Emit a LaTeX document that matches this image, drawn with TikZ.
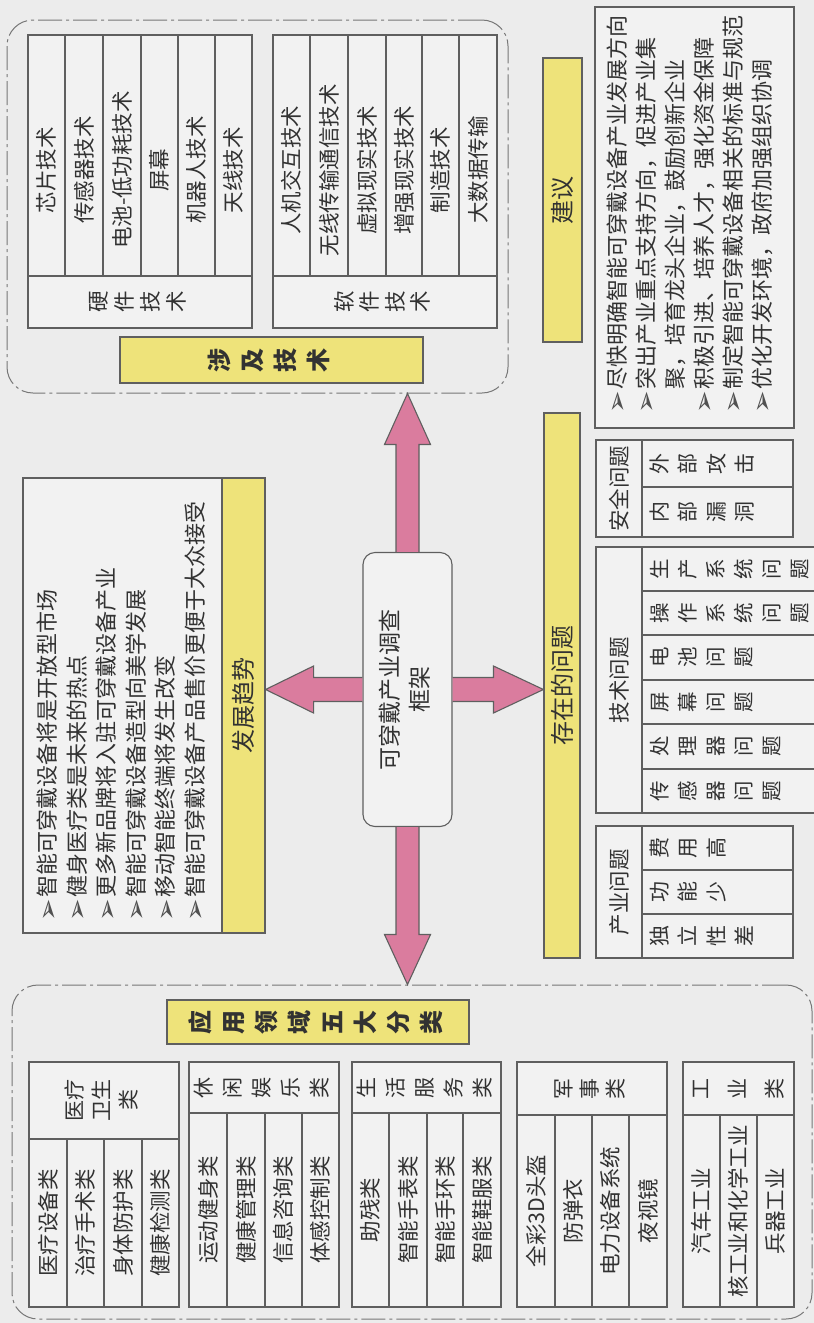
\documentclass[tikz,border=0pt]{standalone}
\usepackage{fontspec}
\usepackage{graphicx}
\setmainfont{Noto Sans CJK SC}
\newfontfamily\dejavu{DejaVu Sans}
\usetikzlibrary{calc}
\definecolor{bgc}{RGB}{236,236,236}
\definecolor{boxc}{RGB}{242,242,242}
\definecolor{linec}{RGB}{95,95,95}
\definecolor{txtc}{RGB}{50,50,50}
\definecolor{yel}{RGB}{238,227,122}
\definecolor{pinkc}{RGB}{218,124,158}
\newcommand{\fs}[2]{\fontsize{#1}{#2}\selectfont}
\newcommand{\R}[1]{\rotatebox{90}{\begin{tabular}{@{}c@{}}#1\end{tabular}}}
\newcommand{\RL}[1]{\rotatebox{90}{#1}}
\newcommand{\arr}{\raisebox{-1.5pt}{\dejavu\fs{27}{27}\textcolor{txtc!85}{➢}}\hspace{2pt}}
\begin{document}
\begin{tikzpicture}[x=1pt,y=-1pt,
 ln/.style={draw=linec, line width=1.1pt},
 cell/.style={ln, fill=boxc},
 txt/.style={inner sep=0pt, text=txtc, font=\fs{21.5}{27}},
 ltxt/.style={inner sep=0pt, text=txtc, font=\fs{22}{22}, anchor=south},
 ybox/.style={draw=linec, line width=1.1pt, fill=yel, inner sep=0pt, text=txtc},
 grp/.style={draw=linec!85, line width=1pt, dash pattern=on 24pt off 4pt on 3pt off 4pt, rounded corners=26pt, inner sep=0pt},
 fat/.style={draw=linec, line width=1.1pt, fill=pinkc, line join=miter}
]
\fill[bgc] (0,0) rectangle (814,1323);
\useasboundingbox (0,0) rectangle (814,1323);

% ---------- group frames ----------
\node[grp, minimum width=501pt, minimum height=373pt] (tg) at (257.5,206.5) {};
\node[grp, minimum width=800pt, minimum height=334pt] (ag) at (412,1152) {};

% ---------- hardware ----------
\draw[cell] (28,35) rectangle (252,328);
\draw[ln] (28,276) -- (252,276);
\foreach \x in {65,103,141,178,215} \draw[ln] (\x,35) -- (\x,276);
\node[txt] (hw1) at (46.5,170) {\RL{芯片技术}};
\node[txt] (hw2) at (84,170) {\RL{传感器技术}};
\node[txt] (hw3) at (122,170) {\RL{电池-低功耗技术}};
\node[txt] (hw4) at (159.5,170) {\RL{屏幕}};
\node[txt] (hw5) at (196.5,170) {\RL{机器人技术}};
\node[txt] (hw6) at (233.5,170) {\RL{天线技术}};
\node[txt, font=\fs{21.5}{26}] (hwl) at (140,302) {\R{硬\\件\\技\\术}};

% ---------- software ----------
\draw[cell] (273,35) rectangle (497,328);
\draw[ln] (273,276) -- (497,276);
\foreach \x in {310,348,386,422,459} \draw[ln] (\x,35) -- (\x,276);
\node[txt] (sw1) at (291.5,170) {\RL{人机交互技术}};
\node[txt] (sw2) at (329,170) {\RL{无线传输通信技术}};
\node[txt] (sw3) at (367,170) {\RL{虚拟现实技术}};
\node[txt] (sw4) at (404,170) {\RL{增强现实技术}};
\node[txt] (sw5) at (440.5,170) {\RL{制造技术}};
\node[txt] (sw6) at (478,170) {\RL{大数据传输}};
\node[txt, font=\fs{21.5}{24}] (swl) at (385,302) {\R{软\\件\\技\\术}};

\node[ybox, minimum width=303pt, minimum height=46pt, font=\fs{24}{33}\bfseries] (techlbl) at (271.5,360) {\R{涉\\及\\技\\术}};

% ---------- suggestions ----------
\node[ybox, minimum width=39pt, minimum height=284pt, font=\fs{24}{24}] (sug) at (562.5,200) {\RL{建议}};
\draw[cell] (595,7) rectangle (794,428);
\node[ltxt] (s1) at (617,414) {\RL{\arr 尽快明确智能可穿戴设备产业发展方向}};
\node[ltxt] (s2) at (646,414) {\RL{\arr 突出产业重点支持方向，促进产业集}};
\node[ltxt] (s3) at (675,414) {\RL{\phantom{\arr}聚，培育龙头企业，鼓励创新企业}};
\node[ltxt] (s4) at (704,414) {\RL{\arr 积极引进、培养人才，强化资金保障}};
\node[ltxt] (s5) at (733,414) {\RL{\arr 制定智能可穿戴设备相关的标准与规范}};
\node[ltxt] (s6) at (762,414) {\RL{\arr 优化开发环境，政府加强组织协调}};

% ---------- trends ----------
\draw[cell] (23,478) rectangle (265,933);
\node[ybox, minimum width=43pt, minimum height=455pt, font=\fs{24}{24}] (trend) at (243.5,705.5) {\RL{发展趋势}};
\node[ltxt] (t1) at (47.5,922) {\RL{\arr 智能可穿戴设备将是开放型市场}};
\node[ltxt] (t2) at (77,922) {\RL{\arr 健身医疗类是未来的热点}};
\node[ltxt] (t3) at (106.5,922) {\RL{\arr 更多新品牌将入驻可穿戴设备产业}};
\node[ltxt] (t4) at (136,922) {\RL{\arr 智能可穿戴设备造型向美学发展}};
\node[ltxt] (t5) at (165.5,922) {\RL{\arr 移动智能终端将发生改变}};
\node[ltxt] (t6) at (195,922) {\RL{\arr 智能可穿戴设备产品售价更便于大众接受}};

% ---------- centre ----------
\node[draw=linec, line width=1.1pt, fill=boxc, rounded corners=12pt, minimum width=89pt, minimum height=274pt, inner sep=0pt, text=txtc, font=\fs{23}{30}] (c) at (407.5,689.5) {\R{可穿戴产业调查\\框架}};

% ---------- problems ----------
\node[ybox, minimum width=36pt, minimum height=545pt, font=\fs{24}{24}] (prob) at (562,685.5) {\RL{存在的问题}};

\draw[cell] (596,440) rectangle (793,537);
\draw[ln] (642,440) -- (642,537) (642,487) -- (793,487);
\node[txt] (secl) at (619,488.5) {\RL{安全问题}};
\node[txt, font=\fs{21}{28.5}, anchor=west] (sec1) at (647,463.5) {\R{外\\部\\攻\\击}};
\node[txt, font=\fs{21}{28.5}, anchor=west] (sec2) at (647,512) {\R{内\\部\\漏\\洞}};

\draw[cell] (596,547) rectangle (818,813);
\draw[ln] (642,547) -- (642,813);
\foreach \y in {591,635,680,724,769} \draw[ln] (642,\y) -- (818,\y);
\node[txt] (tecl) at (619,680) {\RL{技术问题}};
\node[txt, font=\fs{20.5}{28}, anchor=west] (te1) at (648,569) {\R{生\\产\\系\\统\\问\\题}};
\node[txt, font=\fs{20.5}{28}, anchor=west] (te2) at (648,613) {\R{操\\作\\系\\统\\问\\题}};
\node[txt, font=\fs{20.5}{28}, anchor=west] (te3) at (648,657.5) {\R{电\\池\\问\\题}};
\node[txt, font=\fs{20.5}{28}, anchor=west] (te4) at (648,702) {\R{屏\\幕\\问\\题}};
\node[txt, font=\fs{20.5}{28}, anchor=west] (te5) at (648,746.5) {\R{处\\理\\器\\问\\题}};
\node[txt, font=\fs{20.5}{28}, anchor=west] (te6) at (648,791) {\R{传\\感\\器\\问\\题}};

\draw[cell] (596,826) rectangle (793,958);
\draw[ln] (642,826) -- (642,958) (642,870) -- (793,870) (642,914) -- (793,914);
\node[txt] (indl) at (619,892) {\RL{产业问题}};
\node[txt, font=\fs{21}{28.5}, anchor=west] (in1) at (647,848) {\R{费\\用\\高}};
\node[txt, font=\fs{21}{28.5}, anchor=west] (in2) at (647,892) {\R{功\\能\\少}};
\node[txt, font=\fs{21}{28.5}, anchor=west] (in3) at (647,936) {\R{独\\立\\性\\差}};

% ---------- applications ----------
\node[ybox, minimum width=302pt, minimum height=44pt, font=\fs{24}{33}\bfseries] (applbl) at (318,1022) {\R{应\\用\\领\\域\\五\\大\\分\\类}};

\draw[cell] (29,1062) rectangle (179,1307);
\draw[ln] (29,1139) -- (179,1139);
\foreach \x in {67,104,142} \draw[ln] (\x,1139) -- (\x,1307);
\node[txt, font=\fs{21}{27}] (a1h) at (104,1100) {\R{医疗\\卫生\\类}};
\node[txt] (a11) at (48,1223) {\RL{医疗设备类}};
\node[txt] (a12) at (85.5,1223) {\RL{治疗手术类}};
\node[txt] (a13) at (123,1223) {\RL{身体防护类}};
\node[txt] (a14) at (160.5,1223) {\RL{健康检测类}};

\draw[cell] (189,1062) rectangle (339,1307);
\draw[ln] (189,1113) -- (339,1113);
\foreach \x in {227,265,302} \draw[ln] (\x,1113) -- (\x,1307);
\node[txt, font=\fs{21}{29}] (a2h) at (264,1087.5) {\R{休\\闲\\娱\\乐\\类}};
\node[txt] (a21) at (208,1210) {\RL{运动健身类}};
\node[txt] (a22) at (246,1210) {\RL{健康管理类}};
\node[txt] (a23) at (283.5,1210) {\RL{信息咨询类}};
\node[txt] (a24) at (320.5,1210) {\RL{体感控制类}};

\draw[cell] (352,1062) rectangle (501,1307);
\draw[ln] (352,1113) -- (501,1113);
\foreach \x in {389,427,463} \draw[ln] (\x,1113) -- (\x,1307);
\node[txt, font=\fs{21}{29}] (a3h) at (426.5,1087.5) {\R{生\\活\\服\\务\\类}};
\node[txt] (a31) at (370.5,1210) {\RL{助残类}};
\node[txt] (a32) at (408,1210) {\RL{智能手表类}};
\node[txt] (a33) at (445,1210) {\RL{智能手环类}};
\node[txt] (a34) at (482,1210) {\RL{智能鞋服类}};

\draw[cell] (517,1062) rectangle (667,1307);
\draw[ln] (517,1115) -- (667,1115);
\foreach \x in {555,592,629} \draw[ln] (\x,1115) -- (\x,1307);
\node[txt, font=\fs{21}{26}] (a4h) at (592,1088.5) {\R{军\\事\\类}};
\node[txt] (a41) at (536,1211) {\RL{全彩3D头盔}};
\node[txt] (a42) at (573.5,1211) {\RL{防弹衣}};
\node[txt] (a43) at (610.5,1211) {\RL{电力设备系统}};
\node[txt] (a44) at (648,1211) {\RL{夜视镜}};

\draw[cell] (683,1062) rectangle (794,1307);
\draw[ln] (683,1115) -- (794,1115);
\foreach \x in {720,757} \draw[ln] (\x,1115) -- (\x,1307);
\node[txt, font=\fs{21}{37}] (a5h) at (738.5,1088.5) {\R{工\\业\\类}};
\node[txt] (a51) at (701.5,1211) {\RL{汽车工业}};
\node[txt] (a52) at (738.5,1211) {\RL{核工业和化学工业}};
\node[txt] (a53) at (775.5,1211) {\RL{兵器工业}};

% ---------- fat arrows ----------
\coordinate (uT) at (c.north |- tg.south);
\draw[fat] ($(c.north)+(-11.5,0)$) -- ($(uT)+(-11.5,51)$) -- ($(uT)+(-23,51)$) -- (uT) -- ($(uT)+(23,51)$) -- ($(uT)+(11.5,51)$) -- ($(c.north)+(11.5,0)$);
\coordinate (dT) at (c.south |- ag.north);
\draw[fat] ($(c.south)+(-11.5,0)$) -- ($(dT)+(-11.5,-50)$) -- ($(dT)+(-23,-50)$) -- (dT) -- ($(dT)+(23,-50)$) -- ($(dT)+(11.5,-50)$) -- ($(c.south)+(11.5,0)$);
\coordinate (lT) at (trend.east |- c.west);
\draw[fat] ($(c.west)+(0,-12)$) -- ($(lT)+(48,-12)$) -- ($(lT)+(48,-23.5)$) -- (lT) -- ($(lT)+(48,23.5)$) -- ($(lT)+(48,12)$) -- ($(c.west)+(0,12)$);
\coordinate (rT) at (prob.west |- c.east);
\draw[fat] ($(c.east)+(0,-12)$) -- ($(rT)+(-50,-12)$) -- ($(rT)+(-50,-23.5)$) -- (rT) -- ($(rT)+(-50,23.5)$) -- ($(rT)+(-50,12)$) -- ($(c.east)+(0,12)$);
\end{tikzpicture}
\end{document}
